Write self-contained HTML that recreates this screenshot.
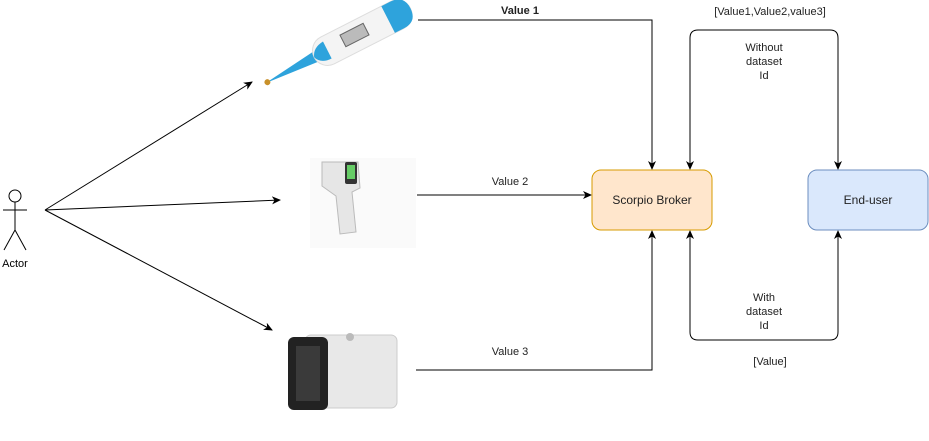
<!DOCTYPE html>
<html><head><style>
body{margin:0;background:#fff;}
svg{display:block;font-family:"Liberation Sans",Arial,sans-serif;}
</style></head><body>
<svg width="929" height="441" viewBox="0 0 929 441" xmlns="http://www.w3.org/2000/svg">
<defs><marker id="a" markerWidth="10" markerHeight="10" refX="8" refY="5" orient="auto-start-reverse" markerUnits="userSpaceOnUse"><path d="M0,1 L9,5 L0,9 L2.5,5 Z" fill="#000"/></marker></defs>
<!-- actor -->
<g stroke="#000" fill="none" stroke-width="1">
<circle cx="15" cy="196" r="6" fill="#fff"/>
<line x1="15" y1="202" x2="15" y2="230"/>
<line x1="3" y1="210" x2="27" y2="210"/>
<line x1="15" y1="230" x2="4" y2="250"/>
<line x1="15" y1="230" x2="26" y2="250"/>
</g>
<text x="15" y="267" font-size="11" text-anchor="middle" fill="#000">Actor</text>
<g stroke="#000" stroke-width="1" fill="none" marker-end="url(#a)">
<line x1="45" y1="210" x2="252" y2="82"/>
<line x1="45" y1="210" x2="280" y2="200"/>
<line x1="45" y1="210" x2="272" y2="330"/>
<polyline points="418,20 652,20 652,169"/>
<line x1="417" y1="195" x2="591" y2="195"/>
<polyline points="416,370 652,370 652,231"/>
<path d="M838,169 V38 Q838,30 830,30 H698 Q690,30 690,38 V169" marker-start="url(#a)"/>
<path d="M690,231 V332 Q690,340 698,340 H830 Q838,340 838,332 V231" marker-start="url(#a)"/>
</g>
<!-- thermometer -->
<g transform="translate(336,45) rotate(-27)">
<path d="M-80,2 L-10,-6 L-10,8 Z" fill="#2ea3dc"/>
<rect x="-25" y="-14" width="108" height="30" rx="15" fill="#f4f4f4" stroke="#ddd"/>
<path d="M-25,1 Q-22,-8 -10,-9 L-10,10 Q-22,10 -25,1 Z" fill="#2ea3dc"/>
<path d="M58,-14 H68 Q83,-14 83,1 Q83,16 68,16 H58 Z" fill="#2ea3dc"/>
<rect x="8" y="-7" width="26" height="13" fill="#bbb" stroke="#666"/>
<circle cx="-78" cy="2" r="3" fill="#c8902a"/>
</g>
<!-- gun -->
<rect x="310" y="158" width="106" height="90" fill="#fafafa"/>
<path d="M322,162 L358,162 L360,188 L352,192 L356,232 L340,234 L336,196 L322,186 Z" fill="#e6e6e6" stroke="#bbb"/>
<rect x="345" y="162" width="12" height="22" rx="2" fill="#333"/>
<rect x="347" y="165" width="8" height="14" fill="#6c6"/>
<!-- box device -->
<rect x="305" y="335" width="92" height="73" rx="6" fill="#e8e8e8" stroke="#ccc"/>
<rect x="288" y="337" width="40" height="73" rx="6" fill="#222"/>
<rect x="296" y="346" width="24" height="55" fill="#3a3a3a"/>
<circle cx="350" cy="337" r="4" fill="#bbb"/>
<!-- boxes -->
<rect x="592" y="170" width="120" height="60" rx="9" fill="#ffe6cc" stroke="#d79b00"/>
<text x="652" y="204" font-size="12" text-anchor="middle" fill="#222">Scorpio Broker</text>
<rect x="808" y="170" width="120" height="60" rx="9" fill="#dae8fc" stroke="#6c8ebf"/>
<text x="868" y="204" font-size="12" text-anchor="middle" fill="#222">End-user</text>
<!-- labels -->
<g font-size="11" fill="#222" text-anchor="middle">
<text x="520" y="14" font-weight="bold">Value 1</text>
<text x="510" y="185">Value 2</text>
<text x="510" y="355">Value 3</text>
<text x="770" y="15">[Value1,Value2,value3]</text>
<text x="764" y="51">Without</text>
<text x="764" y="65">dataset</text>
<text x="764" y="79">Id</text>
<text x="764" y="301">With</text>
<text x="764" y="315">dataset</text>
<text x="764" y="329">Id</text>
<text x="770" y="365">[Value]</text>
</g>
</svg>
</body></html>
